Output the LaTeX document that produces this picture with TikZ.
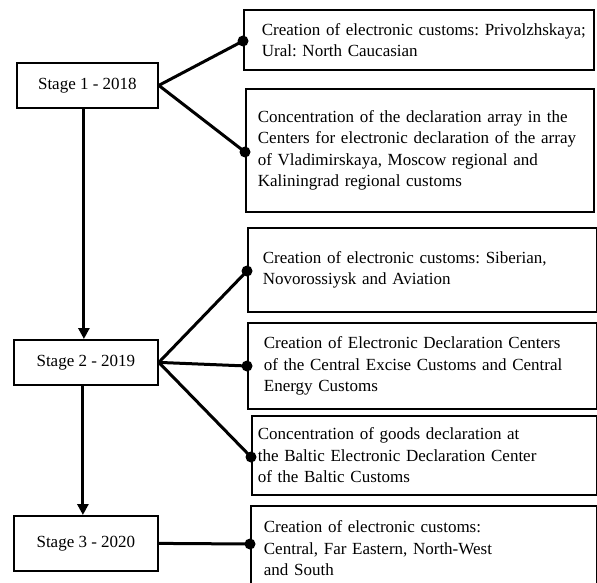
\documentclass[tikz,border=0pt]{standalone}
\usepackage{fontspec}
\setmainfont{Liberation Serif}
\usetikzlibrary{arrows.meta}
\frenchspacing
\newcommand{\boxfont}{\fontsize{17}{21.5}\selectfont\frenchspacing}
\begin{document}
\begin{tikzpicture}[x=1pt,y=-1pt,
  stagebox/.style={draw, line width=1.8pt, inner sep=0pt, anchor=north west, font=\boxfont},
  infobox/.style={draw, line width=1.8pt, inner xsep=0pt, inner ysep=0pt, anchor=north west, align=left, font=\boxfont},
  conn/.style={line width=3pt},
  arr/.style={line width=3pt, -{Triangle[width=11pt,length=11pt]}},
  dotmark/.style={circle, fill=black, inner sep=0pt, minimum size=11pt}]
\useasboundingbox (0,0) rectangle (597,583);
\clip (0,0) rectangle (597,583);

% stage boxes
\node[stagebox, minimum width=141pt, minimum height=45pt] (s1) at (16,62) {Stage 1 - 2018};
\node[stagebox, minimum width=144pt, minimum height=45pt] (s2) at (13,339) {Stage 2 - 2019};
\node[stagebox, minimum width=144pt, minimum height=55pt] (s3) at (13,515) {Stage 3 - 2020};

% info boxes
\node[infobox, text width=350pt, minimum height=60pt] (b1) at (243,9)
  {\leftskip=18pt Creation of electronic customs: Privolzhskaya;\\Ural: North Caucasian\par};
\node[infobox, text width=348pt, minimum height=123pt] (b2) at (245,88)
  {\leftskip=12pt Concentration of the declaration array in the\\Centers for electronic declaration of the array\\of Vladimirskaya, Moscow regional and\\Kaliningrad regional customs\par};
\node[infobox, text width=349pt, minimum height=84pt] (b3) at (247,227)
  {\leftskip=15pt Creation of electronic customs: Siberian,\\Novorossiysk and Aviation\par};
\node[infobox, text width=349pt, minimum height=86pt] (b4) at (247,322)
  {\leftskip=16pt Creation of Electronic Declaration Centers\\of the Central Excise Customs and Central\\Energy Customs\par};
\node[infobox, text width=345pt, minimum height=79pt] (b5) at (251,415)
  {\leftskip=6pt Concentration of goods declaration at\\the Baltic Electronic Declaration Center\\of the Baltic Customs\par};
\node[infobox, text width=346pt, minimum height=85pt] (b6) at (250,505)
  {\leftskip=13pt Creation of electronic customs:\\Central, Far Eastern, North-West\\and South\par};

% dot coordinates on box edges
\coordinate (d1) at (243,41);
\coordinate (d2) at (245,152);
\coordinate (d3) at (247,271);
\coordinate (d4) at (247,366);
\coordinate (d5) at (251,457);
\coordinate (d6) at (250,544);

% connectors
\draw[conn] (s1.east) -- (d1);
\draw[conn] (s1.east) -- (d2);
\draw[conn] (s2.east) -- (d3);
\draw[conn] (s2.east) -- (d4);
\draw[conn] (s2.east) -- (d5);
\draw[conn] (s3.east) -- (d6);
\foreach \d in {d1,d2,d3,d4,d5,d6} \node[dotmark] at (\d) {};

% vertical arrows
\draw[arr] ([xshift=-3.5pt]s1.south) -- ([xshift=-3.5pt]s1.south |- s2.north);
\draw[arr] ([xshift=-3pt]s2.south) -- ([xshift=-3pt]s2.south |- s3.north);
\end{tikzpicture}
\end{document}
